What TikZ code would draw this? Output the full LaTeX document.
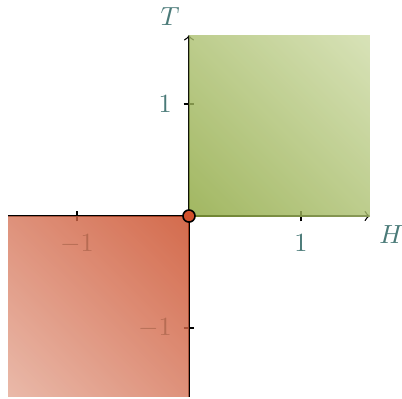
\documentclass[tikz,border=0pt]{standalone}
\usepackage{xcolor}
\usetikzlibrary{shadings}
\definecolor{testo}{RGB}{74,122,120}
\definecolor{verdeS}{RGB}{138,165,58}
\definecolor{verdeM}{RGB}{172,192,112}
\definecolor{verdeC}{RGB}{206,219,166}
\definecolor{rossoS}{RGB}{201,70,32}
\definecolor{rossoM}{RGB}{214,118,90}
\definecolor{rossoC}{RGB}{228,168,148}
\definecolor{rossoP}{RGB}{210,80,44}

\begin{document}
\begin{tikzpicture}[x=1.5cm, y=1.5cm, >=to, line width=0.5pt,
	etich/.style  = {text=testo},
	origine/.style = {circle, fill=rossoP, draw=black,
		inner sep=0pt, minimum size=4.6pt, line width=0.6pt},
	]
	\useasboundingbox (-1.6875,-1.625) rectangle (1.902,1.929);
	
	%% ── Parametri ────────────────────────────────────────────────────────────
	\def\Lq{1.615}   % lato quadrati / lunghezza assi
	\def\tk{2pt}     % semi-lunghezza tacche
	
	\coordinate (O) at (0,0);
	\coordinate (xmin) at (-\Lq,0);
	\coordinate (xmax) at (\Lq,0);
	\coordinate (ymin) at (0,-\Lq);
	\coordinate (ymax) at (0,\Lq);
	
	%% ── Assi ─────────────────────────────────────────────────────────────────
	\draw[->](xmin)--(xmax);
	\draw[->](ymin)--(ymax);
	\node[etich, below right]   (H) at (xmax) {$H$};
	\node[etich, above left]    (T) at (ymax) {$T$};
	
	%% ── Tacche ed etichette ──────────────────────────────────────────────────
	\foreach \t/\n in {-1/m,1/p}{
		\draw([yshift=-\tk]\t,0)--([yshift=\tk]\t,0);
		\draw([xshift=-\tk]0,\t)--([xshift=\tk]0,\t);
		\node[etich, below=3.5pt] (tx\n) at (\t,0) {$\t$};
		\node[etich, left=3pt]    (ty\n) at (0,\t) {$\t$};
	}
	
	%% ── Quadrati sfumati ─────────────────────────────────────────────────────
	\shade[fill opacity=0.8, lower left=verdeS, upper right=verdeC,
		upper left=verdeM, lower right=verdeM]
	(O) rectangle (\Lq,\Lq);
	\shade[fill opacity=0.8, lower left=rossoC, upper right=rossoS,
		upper left=rossoM, lower right=rossoM]
	(-\Lq,-\Lq) rectangle (O);
	
	%% ── Origine ──────────────────────────────────────────────────────────────
	\node[origine] (orig) at (O) {};
	
\end{tikzpicture}
\end{document}
